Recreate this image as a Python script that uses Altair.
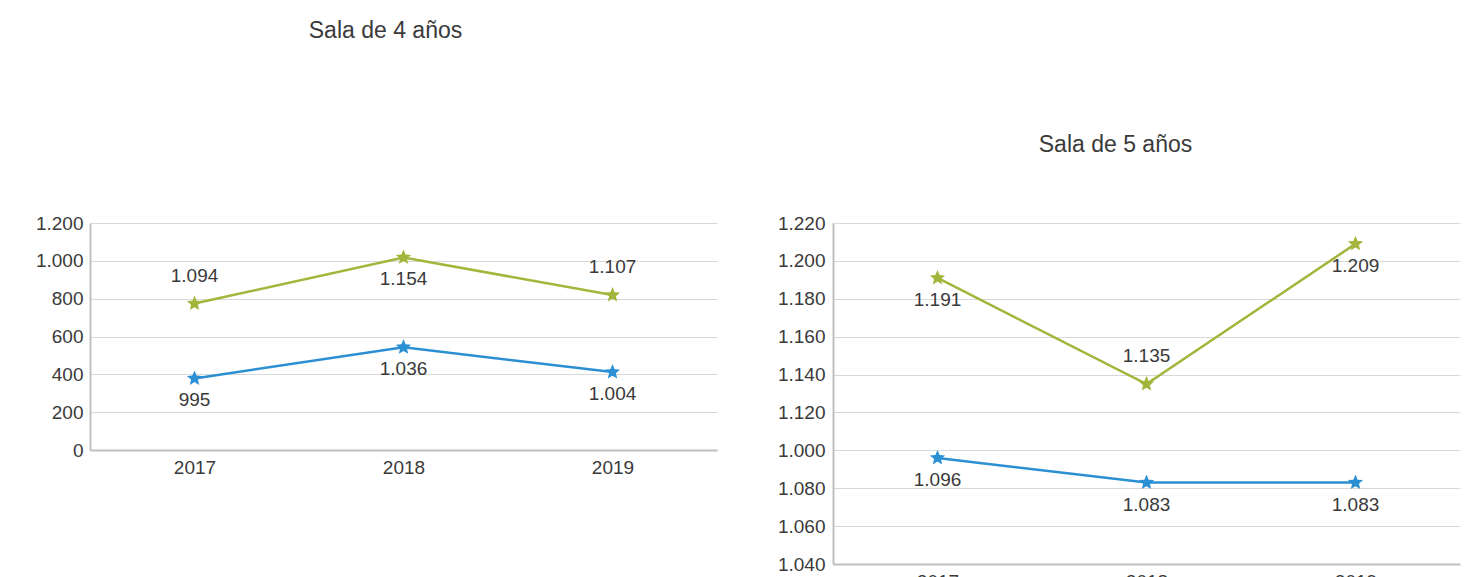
import math
import altair as alt
import pandas as pd

# ---------------- data ----------------
years = ["2017", "2018", "2019"]
series = ["Estatal", "Privado"]
colors = ["#2b8fd3", "#a4b53b"]

# Sala de 4 años: plotted positions (as drawn against the axis) and printed labels
sala4_estatal_y = [378, 543, 412]
sala4_privado_y = [774, 1018, 819]
sala4_estatal_label = [995, 1036, 1004]
sala4_privado_label = [1094, 1154, 1107]

# Sala de 5 años
sala5_estatal = [1096, 1083, 1083]
sala5_privado = [1191, 1135, 1209]

sala4_ticks = [0, 200, 400, 600, 800, 1000, 1200]
sala4_tick_labels = ["0", "200", "400", "600", "800", "1.000", "1.200"]
sala5_ticks = [1040, 1060, 1080, 1100, 1120, 1140, 1160, 1180, 1200, 1220]
sala5_tick_labels = ["1.040", "1.060", "1.080", "1.000", "1.120",
                     "1.140", "1.160", "1.180", "1.200", "1.220"]

# which side of the point each label sits on (1 = above, -1 = below)
sala4_side = {"Estatal": [-1, -1, -1], "Privado": [1, -1, 1]}
sala5_side = {"Estatal": [-1, -1, -1], "Privado": [-1, 1, -1]}


def fmt(v):
    return f"{v:,}".replace(",", ".")


def build(yvals, labels, sides):
    rows = []
    for s in series:
        for i, yr in enumerate(years):
            rows.append({"year": yr, "serie": s, "val": yvals[s][i],
                         "txt": fmt(labels[s][i]), "side": sides[s][i]})
    return pd.DataFrame(rows)


df4 = build({"Estatal": sala4_estatal_y, "Privado": sala4_privado_y},
            {"Estatal": sala4_estatal_label, "Privado": sala4_privado_label},
            sala4_side)
df5 = build({"Estatal": sala5_estatal, "Privado": sala5_privado},
            {"Estatal": sala5_estatal, "Privado": sala5_privado},
            sala5_side)

FONT = "Liberation Sans"
TXT = "#3a3a3a"


def star_pts(R, r):
    pts = []
    for k in range(10):
        ang = -math.pi / 2 + k * math.pi / 5
        rad = R if k % 2 == 0 else r
        pts.append(f"{rad*math.cos(ang):.4f},{rad*math.sin(ang):.4f}")
    return "M" + "L".join(pts) + "Z"


STAR = star_pts(1.0, 0.45)


# legend symbol: a line with a star in the middle (unit = 8 px)
def legend_path():
    L, h = 3.875, 0.16
    p = f"M{-L},{-h}L{L},{-h}L{L},{h}L{-L},{h}Z"
    return p + star_pts(1.0, 0.45)


def tick_expr(vals, labs):
    e = ""
    for v, lab in zip(vals, labs):
        e += f"datum.value == {v} ? '{lab}' : "
    return e + "''"


color = alt.Color("serie:N", scale=alt.Scale(domain=series, range=colors),
                  legend=alt.Legend(title=None))


def panel(df, title, height, domain, ticks, label_expr, title_offset, title_dx, label_pad):
    x = alt.X("year:O", title=None,
              scale=alt.Scale(type="point", padding=0.5),
              axis=alt.Axis(labelAngle=0, ticks=False, grid=False, labelPadding=8,
                            domainColor="#c0c0c0", domainWidth=2))
    y = alt.Y("val:Q", title=None,
              scale=alt.Scale(domain=domain, nice=False, zero=False),
              axis=alt.Axis(values=ticks, labelExpr=label_expr, ticks=False, grid=True,
                            gridColor="#d9d9d9", gridWidth=1, labelPadding=label_pad,
                            domainColor="#c0c0c0", domainWidth=2))
    base = alt.Chart(df).encode(x=x, y=y)
    line = base.mark_line(strokeWidth=2.5).encode(color=color)
    pts = base.mark_point(shape=STAR, filled=True, size=256, opacity=1).encode(color=color)
    above = base.transform_filter("datum.side > 0").mark_text(
        dy=-28, fontSize=19, font=FONT, color=TXT).encode(text="txt:N")
    below = base.transform_filter("datum.side < 0").mark_text(
        dy=22, fontSize=19, font=FONT, color=TXT).encode(text="txt:N")
    return alt.layer(line, pts, above, below).properties(
        width=627, height=height,
        title=alt.TitleParams(title, offset=title_offset, dx=title_dx, anchor="middle"))


p4 = panel(df4, "Sala de 4 años", 227, [0, 1200], sala4_ticks,
           tick_expr(sala4_ticks, sala4_tick_labels), 171, -18, 7)
p5 = panel(df5, "Sala de 5 años", 341, [1040, 1220], sala5_ticks,
           tick_expr(sala5_ticks, sala5_tick_labels), 57, -31, 8)

chart = alt.hconcat(p4, p5, spacing=60).properties(
    padding={"left": 27, "top": 12, "right": 5, "bottom": 5}
).configure_view(stroke=None).configure_axis(
    labelFont=FONT, labelFontSize=19, labelColor=TXT
).configure_title(
    font=FONT, fontSize=23, color=TXT, fontWeight="normal"
).configure_legend(
    orient="none", legendX=521, legendY=486, direction="horizontal",
    fillColor="#e6e7e9", padding=16, symbolType=legend_path(), symbolSize=256,
    labelFont=FONT, labelFontSize=20, labelColor="#222222",
    labelOffset=31, columnPadding=50
)

chart.save("out.html", embed_options={"renderer": "svg", "actions": False})
